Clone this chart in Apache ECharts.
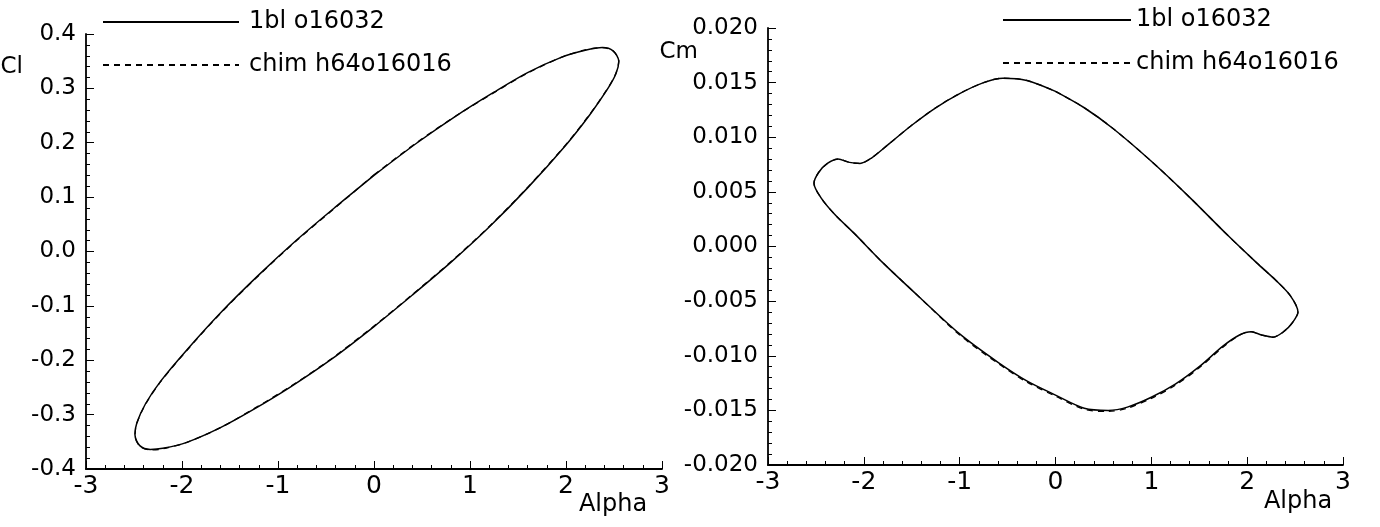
<!DOCTYPE html>
<html>
<head>
<meta charset="utf-8">
<script src="https://cdn.jsdelivr.net/npm/echarts@6/dist/echarts.min.js"></script>
<style>
  html, body { margin: 0; padding: 0; background: #fff; }
  #chart { width: 1380px; height: 527px; }
</style>
</head>
<body>
<div id="chart"></div>
<script>
// Cl loop (left plot), starts on the upper branch at alpha 0
var clAlpha = [0, 0.45, 0.86, 1.25, 1.6, 1.95, 2.2, 2.38, 2.49, 2.55,
  2.52, 2.43, 2.25, 2.0, 1.6, 1.2, 0.8, 0.4, 0,
  -0.45, -0.86, -1.25, -1.6, -1.95, -2.2, -2.33, -2.44, -2.49,
  -2.47, -2.38, -2.22, -1.95, -1.6, -1.2, -0.8, -0.4, 0];
var clBl = [0.140, 0.200, 0.250, 0.293, 0.329, 0.357, 0.370, 0.375, 0.369, 0.350,
  0.327, 0.298, 0.252, 0.196, 0.117, 0.045, -0.020, -0.080, -0.138,
  -0.199, -0.248, -0.290, -0.324, -0.351, -0.362, -0.364, -0.357, -0.337,
  -0.315, -0.280, -0.238, -0.181, -0.113, -0.043, 0.022, 0.082, 0.140];
var clChim = [0.141, 0.201, 0.250, 0.292, 0.328, 0.357, 0.371, 0.375, 0.369, 0.351,
  0.328, 0.299, 0.253, 0.197, 0.118, 0.046, -0.019, -0.079, -0.137,
  -0.198, -0.247, -0.289, -0.324, -0.351, -0.363, -0.365, -0.358, -0.338,
  -0.316, -0.281, -0.239, -0.182, -0.114, -0.044, 0.021, 0.081, 0.141];

// Cm loop (right plot), starts on the upper branch at alpha 0
var cmAlpha = [0.0, 0.3, 0.6, 1.0, 1.4, 1.8, 2.1, 2.3, 2.45, 2.53, 2.47, 2.38, 2.27, 2.15, 2.04, 1.92,
  1.75, 1.5, 1.25, 1.0, 0.75, 0.55, 0.3, 0.0, -0.3, -0.6, -1.0, -1.4, -1.8, -2.1, -2.3, -2.45, -2.52,
  -2.47, -2.38, -2.27, -2.15, -2.04, -1.92, -1.75, -1.5, -1.25, -1.0, -0.75, -0.55, -0.3, 0.0];
var cmBl = [0.0142, 0.0127, 0.0108, 0.0078, 0.0045, 0.0010, -0.0015, -0.0031, -0.0045, -0.0060, -0.0070,
  -0.0078, -0.0083, -0.0081, -0.0078, -0.0081, -0.0091, -0.0110, -0.0126, -0.0138, -0.0147, -0.0150,
  -0.0148, -0.0136, -0.0123, -0.0106, -0.0080, -0.0048, -0.0015, 0.0012, 0.0029, 0.0045, 0.0058,
  0.0068, 0.0076, 0.0080, 0.0077, 0.0076, 0.0081, 0.0093, 0.0111, 0.0127, 0.0140, 0.0150, 0.0154, 0.0152, 0.0142];
var cmChim = [0.0142, 0.0127, 0.0108, 0.0078, 0.0045, 0.0010, -0.0015, -0.0031, -0.0045, -0.0060, -0.0070,
  -0.0078, -0.0083, -0.0081, -0.0078, -0.0081, -0.0092, -0.0111, -0.0127, -0.0139, -0.0148, -0.0151,
  -0.0149, -0.0137, -0.0124, -0.0107, -0.0081, -0.0048, -0.0015, 0.0012, 0.0029, 0.0045, 0.0058,
  0.0068, 0.0076, 0.0080, 0.0077, 0.0076, 0.0081, 0.0093, 0.0111, 0.0127, 0.0140, 0.0150, 0.0154, 0.0152, 0.0142];

var seriesNames = ['1bl o16032', 'chim h64o16016'];
var FONT = 'DejaVu Sans';

function pairs(xs, ys) {
  return xs.map(function (x, i) { return [x, ys[i]]; });
}

function xAxisCfg(idx, gap, pad) {
  return {
    type: 'value', gridIndex: idx, min: -3, max: 3, interval: 1,
    name: 'Alpha', nameLocation: 'end', nameGap: gap, nameMoveOverlap: false,
    nameTextStyle: { color: '#000', fontFamily: FONT, fontSize: 24, align: 'center', verticalAlign: 'top', padding: [pad, 0, 0, 0] },
    axisLine: { onZero: false, lineStyle: { color: '#000', width: 1.8 } },
    axisTick: { inside: true, length: 8, lineStyle: { color: '#000' } },
    minorTick: { show: true, splitNumber: 5, length: 4, lineStyle: { color: '#000' } },
    splitLine: { show: false },
    axisLabel: { color: '#000', fontFamily: FONT, fontSize: 25, margin: 5, showMinLabel: true, showMaxLabel: true,
      formatter: function (v) { return String(Math.round(v)); } }
  };
}

function yAxisCfg(idx, name, min, max, step, digits, gap, padRight) {
  return {
    type: 'value', gridIndex: idx, min: min, max: max, interval: step,
    name: name, nameLocation: 'end', nameGap: gap, nameMoveOverlap: false,
    nameTextStyle: { color: '#000', fontFamily: FONT, fontSize: 23, align: 'right', verticalAlign: 'middle', padding: [0, padRight, 0, 0] },
    axisLine: { onZero: false, lineStyle: { color: '#000', width: 1.8 } },
    axisTick: { inside: true, length: 8, lineStyle: { color: '#000' } },
    minorTick: { show: true, splitNumber: 5, length: 4, lineStyle: { color: '#000' } },
    splitLine: { show: false },
    axisLabel: { color: '#000', fontFamily: FONT, fontSize: 23, margin: 10, showMinLabel: true, showMaxLabel: true,
      formatter: function (v) { return (Math.abs(v) < 1e-9 ? 0 : v).toFixed(digits); } }
  };
}

function loop(name, idx, data, dashed) {
  return {
    name: name, type: 'line', xAxisIndex: idx, yAxisIndex: idx,
    data: data, smooth: 0.3, symbol: 'none', silent: true,
    itemStyle: { color: '#000' },
    lineStyle: { color: '#000', width: dashed ? 1.3 : 1.5, type: dashed ? [6, 5] : 'solid' }
  };
}

function legendCfg(left, top, width, textPad) {
  return {
    data: seriesNames, orient: 'vertical', left: left, top: top, padding: 0,
    itemWidth: width, itemHeight: 14, itemGap: 19, selectedMode: false,
    itemStyle: { color: 'rgba(0,0,0,0)', borderColor: 'rgba(0,0,0,0)', borderWidth: 0 },
    textStyle: { color: '#000', fontFamily: FONT, fontSize: 24, padding: [0, 0, 0, textPad] }
  };
}

var chart = echarts.init(document.getElementById('chart'));
chart.setOption({
  backgroundColor: '#fff',
  animation: false,
  legend: [legendCfg(102, 10, 136, 5), legendCfg(1002, 8, 128, 0)],
  grid: [
    { left: 86, top: 34, width: 576, height: 435, containLabel: false, outerBoundsMode: 'none' },
    { left: 768, top: 28, width: 575, height: 437, containLabel: false, outerBoundsMode: 'none' }
  ],
  xAxis: [xAxisCfg(0, -49, 24), xAxisCfg(1, -45, 25)],
  yAxis: [
    yAxisCfg(0, 'Cl', -0.4, 0.4, 0.1, 1, -33, 63),
    yAxisCfg(1, 'Cm', -0.02, 0.02, 0.005, 3, -24, 70)
  ],
  series: [
    loop(seriesNames[1], 0, pairs(clAlpha, clChim), true),
    loop(seriesNames[0], 0, pairs(clAlpha, clBl), false),
    loop(seriesNames[1], 1, pairs(cmAlpha, cmChim), true),
    loop(seriesNames[0], 1, pairs(cmAlpha, cmBl), false)
  ]
});
</script>
</body>
</html>
